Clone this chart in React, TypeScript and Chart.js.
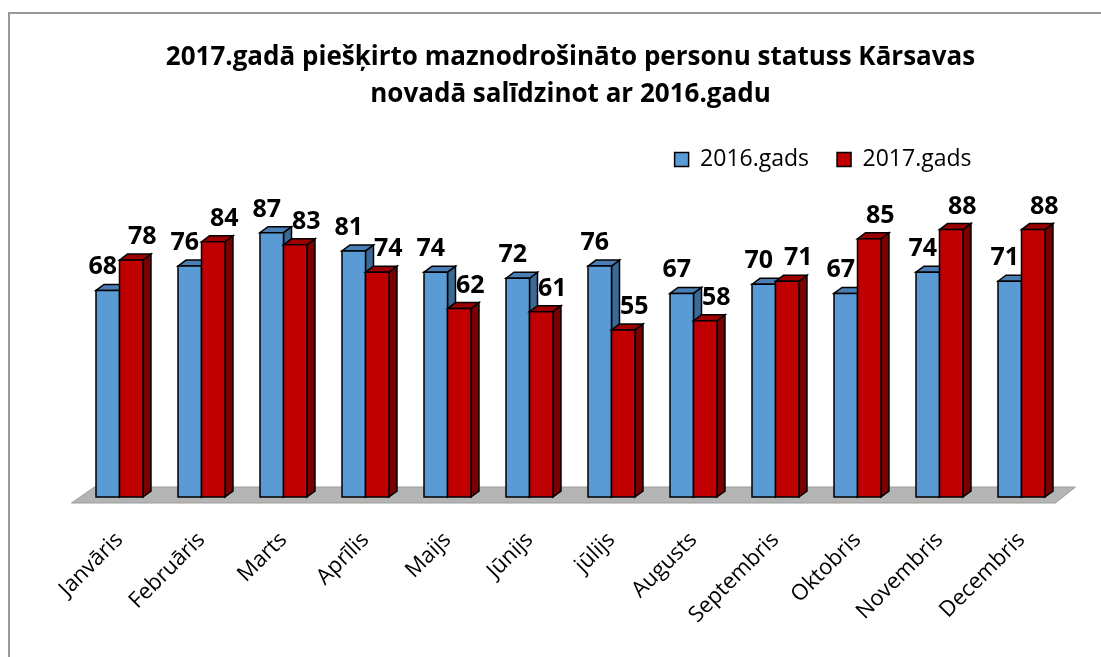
import { useEffect, useRef } from "react";
import { Chart, registerables } from "chart.js";

Chart.register(...registerables);

const categories = [
  "Janvāris",
  "Februāris",
  "Marts",
  "Aprīlis",
  "Maijs",
  "Jūnijs",
  "jūlijs",
  "Augusts",
  "Septembris",
  "Oktobris",
  "Novembris",
  "Decembris",
];
const series2016 = [68, 76, 87, 81, 74, 72, 76, 67, 70, 67, 74, 71];
const series2017 = [78, 84, 83, 74, 62, 61, 55, 58, 71, 85, 88, 88];
const seriesNames = ["2016.gads", "2017.gads"];
const titleLines = [
  "2017.gadā piešķirto maznodrošināto personu statuss Kārsavas",
  "novadā salīdzinot ar 2016.gadu",
];

const faceColors = [
  { front: "#5b9bd5", top: "#4a7fb5", side: "#3b6a96" },
  { front: "#c00000", top: "#9c0000", side: "#780000" },
];
const DEPTH_X = 8;
const DEPTH_Y = 6;
const LABEL_DX = [-5, 11];
const LABEL_GAP = 16;

const bars3d = {
  id: "bars3d",
  afterLayout(chart: any) {
    if (chart.legend) {
      chart.legend.right = chart.chartArea.right - 63;
    }
  },
  beforeDatasetsDraw(chart: any) {
    const ctx = chart.ctx as CanvasRenderingContext2D;
    const { left, right } = chart.chartArea;
    const y0 = chart.scales.y.getPixelForValue(0);
    ctx.save();
    // floor
    ctx.beginPath();
    ctx.moveTo(left - 7, y0 + 6);
    ctx.lineTo(right - 7, y0 + 6);
    ctx.lineTo(right + 13, y0 - 10);
    ctx.lineTo(left + 16, y0 - 10);
    ctx.closePath();
    ctx.fillStyle = "#b4b4b4";
    ctx.fill();
    ctx.strokeStyle = "#9c9c9c";
    ctx.lineWidth = 1;
    ctx.stroke();

    const metas = [chart.getDatasetMeta(0), chart.getDatasetMeta(1)];
    ctx.lineWidth = 1.5;
    ctx.strokeStyle = "#000";
    ctx.lineJoin = "miter";
    const poly = (pts: number[][], fill: string) => {
      ctx.beginPath();
      ctx.moveTo(pts[0][0], pts[0][1]);
      for (let k = 1; k < pts.length; k++) ctx.lineTo(pts[k][0], pts[k][1]);
      ctx.closePath();
      ctx.fillStyle = fill;
      ctx.fill();
      ctx.stroke();
    };
    for (let i = 0; i < categories.length; i++) {
      for (let d = 0; d < 2; d++) {
        const el = metas[d].data[i];
        const x0 = el.x - el.width / 2;
        const x1 = el.x + el.width / 2;
        const yt = el.y;
        const yb = el.base;
        const c = faceColors[d];
        poly(
          [
            [x1, yb],
            [x1 + DEPTH_X, yb - DEPTH_Y],
            [x1 + DEPTH_X, yt - DEPTH_Y],
            [x1, yt],
          ],
          c.side
        );
        poly(
          [
            [x0, yt],
            [x0 + DEPTH_X, yt - DEPTH_Y],
            [x1 + DEPTH_X, yt - DEPTH_Y],
            [x1, yt],
          ],
          c.top
        );
        poly(
          [
            [x0, yb],
            [x0, yt],
            [x1, yt],
            [x1, yb],
          ],
          c.front
        );
      }
    }
    // data labels
    ctx.fillStyle = "#000";
    ctx.font = "bold 25px 'Open Sans'";
    ctx.textAlign = "center";
    ctx.textBaseline = "alphabetic";
    for (let d = 0; d < 2; d++) {
      const values = chart.data.datasets[d].data;
      metas[d].data.forEach((el: any, i: number) => {
        ctx.fillText(String(values[i]), el.x + LABEL_DX[d], el.y - LABEL_GAP);
      });
    }
    ctx.restore();
    return false;
  },
};

export default function App() {
  const ref = useRef<HTMLCanvasElement>(null);
  useEffect(() => {
    if (!ref.current) return;
    const chart = new Chart(ref.current, {
      type: "bar",
      data: {
        labels: categories,
        datasets: [
          {
            label: seriesNames[0],
            data: series2016,
            backgroundColor: faceColors[0].front,
            borderColor: "#000",
            borderWidth: 1.5,
            categoryPercentage: 0.573,
            barPercentage: 1,
          },
          {
            label: seriesNames[1],
            data: series2017,
            backgroundColor: faceColors[1].front,
            borderColor: "#000",
            borderWidth: 1.5,
            categoryPercentage: 0.573,
            barPercentage: 1,
          },
        ],
      },
      options: {
        animation: false,
        responsive: true,
        maintainAspectRatio: false,
        layout: { padding: { left: 68.5, right: 38.5, top: 0, bottom: 0 } },
        plugins: {
          title: {
            display: true,
            text: titleLines,
            color: "#000",
            font: { family: "Open Sans", size: 26, weight: "bold", lineHeight: 1.423 },
            padding: { top: 25.5, bottom: 6.5 },
          },
          legend: {
            display: true,
            align: "end",
            labels: {
              color: "#000",
              font: { family: "Open Sans", size: 23 },
              boxWidth: 14,
              boxHeight: 14,
              padding: 28,
            },
          },
          tooltip: { enabled: false },
        },
        scales: {
          x: {
            grid: { display: false },
            border: { display: false },
            ticks: {
              color: "#000",
              autoSkip: false,
              maxRotation: 45,
              minRotation: 45,
              padding: 22,
              font: { family: "Open Sans", size: 22 },
            },
            afterFit(scale: any) {
              scale.height = 160;
            },
          },
          y: { display: false, min: 0, max: 104 },
        },
      },
      plugins: [bars3d],
    });
    return () => chart.destroy();
  }, []);
  return (
    <div
      style={{
        position: "absolute",
        left: 8,
        top: 12,
        width: 1093,
        height: 645,
        overflow: "hidden",
        borderLeft: "2px solid #999",
        borderTop: "2px solid #999",
        boxSizing: "border-box",
        background: "#fff",
      }}
    >
      <div style={{ position: "relative", width: 1091, height: 643 }}>
        <canvas ref={ref} />
      </div>
    </div>
  );
}
